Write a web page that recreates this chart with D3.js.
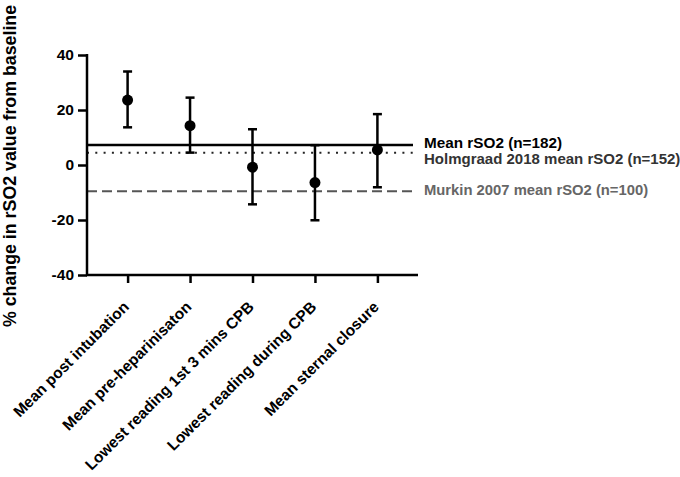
<!DOCTYPE html>
<html><head><meta charset="utf-8">
<script src="https://cdn.jsdelivr.net/npm/d3@7"></script>
<style>body{margin:0;background:#fff;} text{font-family:"Liberation Sans",Arial,sans-serif;font-weight:bold;}</style>
</head><body><svg id="c" width="680" height="477"></svg>
<script>
const categories = ["Mean post intubation","Mean pre-heparinisaton","Lowest reading 1st 3 mins CPB","Lowest reading during CPB","Mean sternal closure"];
const means = [23.6, 14.3, -0.8, -6.4, 5.5];
const upper = [34, 24.5, 13, 7.2, 18.5];
const lower = [13.7, 4.5, -14.3, -20.1, -8.1];
const refLabels = ["Mean rSO2 (n=182)","Holmgraad 2018 mean rSO2 (n=152)","Murkin 2007 mean rSO2 (n=100)"];
const refValues = [7.3, 4.5, -9.5];
const yTicks = [-40, -20, 0, 20, 40];

const svg = d3.select("#c");
const x = d3.scalePoint().domain(categories).range([87, 418]).padding(0.65);
const y = d3.scaleLinear().domain([-40, 40]).range([275, 55]);

const refStyles = [
  {stroke:"#000", dash:null, w:2.5, color:"#000", size:15.3},
  {stroke:"#222", dash:"2,6.3", w:2, color:"#333", size:15},
  {stroke:"#555", dash:"10,5", w:2, color:"#666", size:14.8}
];
refValues.forEach((v,i)=>{
  const s = refStyles[i];
  svg.append("line").attr("x1",87).attr("x2",413).attr("y1",y(v)).attr("y2",y(v))
    .attr("stroke",s.stroke).attr("stroke-width",s.w).attr("stroke-dasharray",s.dash);
});
const labelY = [y(refValues[0])-2.5, y(refValues[0])+14, y(refValues[2])-1];
refLabels.forEach((t,i)=>{
  svg.append("text").attr("x",424).attr("y",labelY[i]).attr("dy","0.35em")
    .attr("font-size",refStyles[i].size).attr("fill",refStyles[i].color).text(t);
});

// axes
const yAxis = svg.append("g").attr("transform","translate(87,0)")
  .call(d3.axisLeft(y).tickValues(yTicks).tickFormat(d=>String(d)).tickSize(9).tickPadding(4));
const xAxis = svg.append("g").attr("transform","translate(0,275)").call(d3.axisBottom(x).tickSize(8).tickPadding(4));
[yAxis,xAxis].forEach(g=>{
  g.select(".domain").attr("stroke","#000").attr("stroke-width",2.5);
  g.selectAll(".tick line").attr("stroke","#000").attr("stroke-width",2.5);
});
xAxis.select(".domain").attr("d","M86,0H418");
yAxis.select(".domain").attr("d","M0,54V276");
yAxis.selectAll(".tick text").attr("font-size",15.5).attr("fill","#000").attr("font-family","Liberation Sans, Arial").attr("font-weight","bold");
xAxis.selectAll(".tick text").attr("font-size",15.5).attr("fill","#000").attr("font-family","Liberation Sans, Arial").attr("font-weight","bold")
  .attr("text-anchor","end").attr("x",0).attr("y",0).attr("dy","0.35em").attr("transform","translate(-2,29) rotate(-45)");

svg.append("text").attr("transform","translate(16,166) rotate(-90)").attr("text-anchor","middle")
  .attr("font-size",17.8).attr("fill","#000").text("% change in rSO2 value from baseline");

// error bars
const g = svg.append("g");
categories.forEach((c,i)=>{
  const cx = x(c);
  g.append("line").attr("x1",cx).attr("x2",cx).attr("y1",y(upper[i])).attr("y2",y(lower[i])).attr("stroke","#000").attr("stroke-width",2.5);
  [upper[i],lower[i]].forEach(v=>g.append("line").attr("x1",cx-4.5).attr("x2",cx+4.5).attr("y1",y(v)).attr("y2",y(v)).attr("stroke","#000").attr("stroke-width",2.5));
  g.append("circle").attr("cx",cx).attr("cy",y(means[i])).attr("r",5.5).attr("fill","#000");
});
</script></body></html>
